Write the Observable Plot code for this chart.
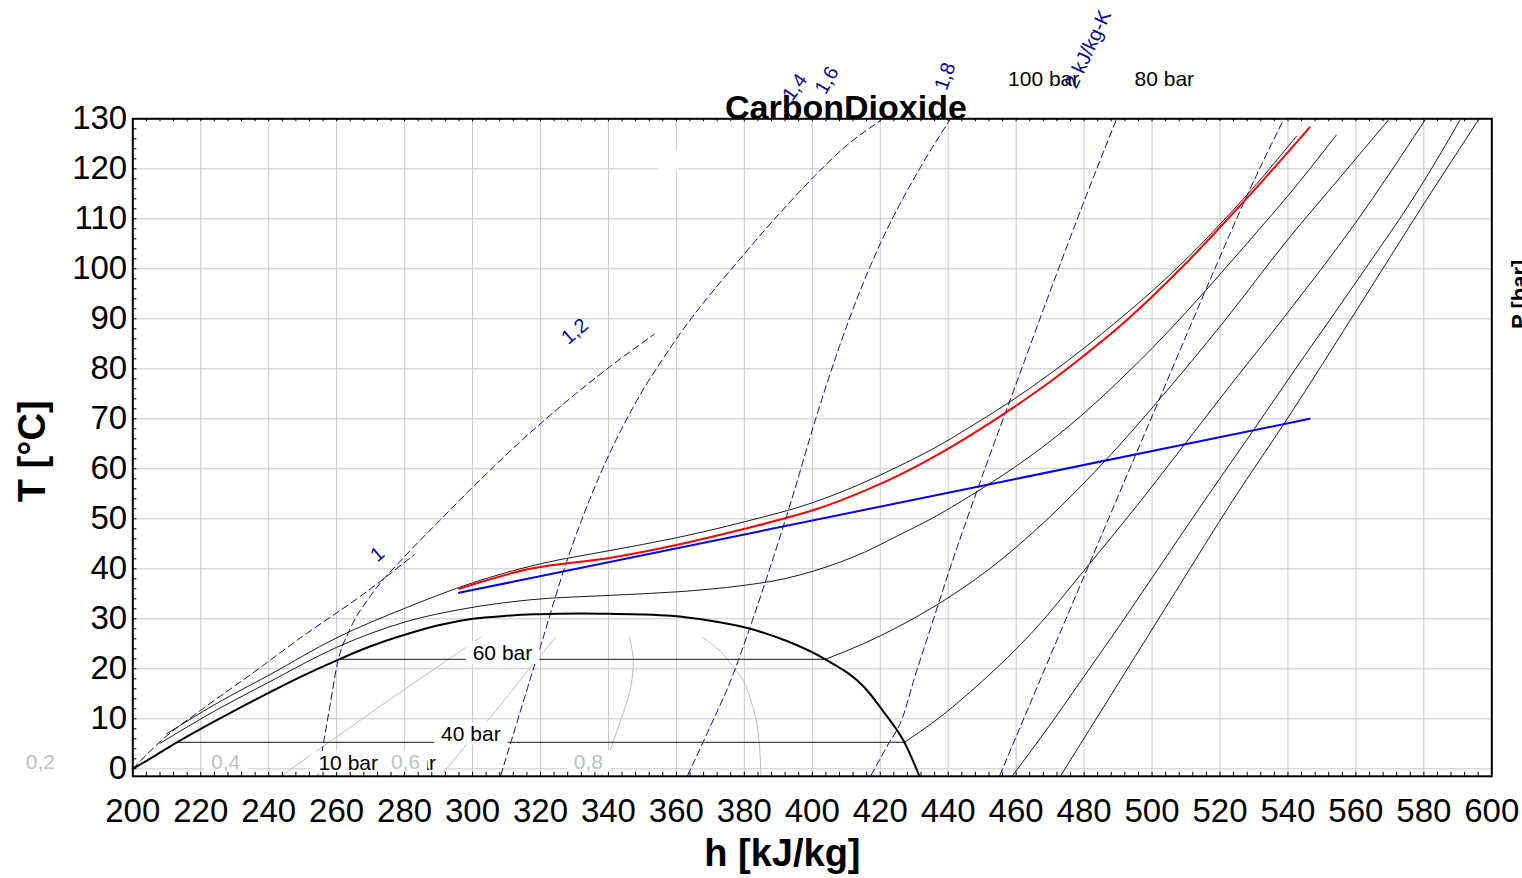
<!DOCTYPE html>
<html>
<head>
<meta charset="utf-8">
<script src="https://cdn.jsdelivr.net/npm/d3@7"></script>
<script src="https://cdn.jsdelivr.net/npm/@observablehq/plot@0.6"></script>
<style>
html,body{margin:0;padding:0;background:#fff;overflow:hidden;}
#chart svg{display:block;}
</style>
</head>
<body>
<div id="chart"></div>
<script>
// ---- axis ticks ----
const hTicks = [200,220,240,260,280,300,320,340,360,380,400,420,440,460,480,500,520,540,560,580,600];
const tTicks = [0,10,20,30,40,50,60,70,80,90,100,110,120,130];
const hGrid = [220,240,260,280,300,320,340,360,380,400,420,440,460,480,500,520,540,560,580];
const tGrid = [0,10,20,30,40,50,60,70,80,90,100,110,120];
const hMinor = d3.range(200, 601, 4);
const tMinor = d3.range(0, 131, 2);

// ---- saturation dome [h kJ/kg, T °C] ----
const saturation = [[200,0],[206.5,2.6],[213,5.3],[220,8],[229,11.3],[240,15.2],[250,18.6],[260.4,21.8],[270,24.5],[281,27],[290,28.7],[300,30],[310,30.6],[318,30.9],[325,31.02],[332,31.06],[340,31.0],[350,30.88],[358.4,30.6],[370,29.6],[380,28.3],[392.7,25.5],[403.8,21.9],[415.3,16.3],[421,11.4],[427.1,5.3],[431.5,-1.4]];

// ---- isobars ----
const p100 = [[210,7],[225,13.2],[240,18.7],[260,26.2],[280.8,32.3],[300,37.2],[320,41.0],[340,43.6],[360,46.2],[380,49.4],[400,53.2],[415.3,57.3],[425.1,60.4],[435,63.8],[447,68.6],[459.5,74.0],[470,79.0],[480.1,84.2],[490,89.7],[500.3,95.7],[510,101.9],[520.4,109.2],[531.2,117.3],[542.5,126.5]];
const p80 = [[208,5.1],[225,11.9],[240,17.3],[260,24.3],[280.8,29.5],[297.5,32],[317,33.8],[340.7,34.7],[360.3,35.4],[380,36.7],[391.7,38],[400.6,39.6],[415.3,43.3],[425.1,46.6],[435,50.0],[447,54.8],[459.5,60.3],[470,65.5],[480.1,71.2],[490,77.4],[500.3,84.3],[510,91.3],[520.4,99.2],[530,106.7],[540,114.6],[554.2,126.7]];
const p60flat = [[260.4,21.9],[403.8,21.9]];
const p60 = [[403.8,21.9],[415,25],[425,28.3],[435,32.1],[452,39.9],[469,49.8],[487,62.2],[500.3,72.4],[520.4,88.8],[540.5,106.3],[555,118],[569.5,129.7]];
const p40flat = [[213.1,5.3],[427.1,5.3]];
const p40 = [[427.1,5.3],[435,9],[450,17.5],[465,27.5],[481,40.5],[496.8,53.7],[509.6,64.9],[520.4,74.4],[540,91.3],[560,109.3],[580.3,129.7]];
const p20 = [[459,-1.3],[470,8.8],[480,18.5],[490,28.2],[500,38.2],[515.5,53.7],[528.7,66.6],[540,77.8],[560,97.3],[580,117.5],[590.6,129.7]];
const p10 = [[473.2,-1.3],[490,17],[507,35.5],[523.8,53.7],[540,70.2],[560,91.5],[580.3,113.3],[596,129.7]];

// ---- process lines ----
const redLine = [[296,36],[317,40],[340.7,42.2],[360.3,44.8],[380,48],[389.8,49.7],[400.6,51.8],[415.3,55.6],[425.1,58.6],[435,62.1],[447,66.9],[459.5,72.4],[470,77.4],[480.1,82.7],[490,88.2],[500.3,94.6],[510,101.1],[520.4,108.6],[531.2,116.6],[546.4,128.3]];
const blueLine = [[296,35.2],[546.4,70]];

// ---- isentropes (kJ/kg-K) ----
const s10 = [[200,0],[204,2.8],[209,6],[220,11.7],[235,19],[250,26.5],[268,35],[282.8,42.8]];
const s12 = [[254.5,-1.3],[256.1,5],[258,12.5],[260.2,21],[264,28],[270,34.6],[279.8,42.3],[290.1,49.5],[302.4,57.9],[317.1,67.3],[330,74.8],[340.2,80.3],[353.5,86.9]];
const s14 = [[308.3,-1.3],[312.5,8],[317,18],[320,24.5],[327,40],[337,58],[347,72],[358,84],[380,103],[390,110.8],[400.6,118.5],[410,124.6],[420.2,129.7]];
const s16 = [[363.3,-1.3],[370,8.5],[376,17.7],[381,27],[386,37],[394,54],[401,70],[408,84.5],[414,95.5],[420,105],[432,120.5],[440.4,129.7]];
const s18 = [[417.3,-1.3],[422,4.5],[426.6,10.3],[430,18],[435,28.5],[440,39],[450,58.5],[460,77],[470,95.5],[480,113.5],[489.4,129.7]];
const s20 = [[455.2,-1.3],[470,22.5],[485,46.5],[500,70.5],[517.4,98.3],[528.2,115],[538.6,129.7]];

// ---- quality lines ----
const q02 = [[244,-1.3],[273,12.6],[302.4,26.3]];
const q04 = [[291,-1.2],[297.5,4.3],[304.9,10],[317.1,20.3],[324.5,26.3]];
const q06 = [[337.9,-1.3],[340.5,3.7],[343.6,9.7],[346.4,15.7],[347.3,21.7],[346.2,26.3]];
const q08 = [[367.7,26.3],[376,21],[381.9,13.7],[384.4,5],[384.9,-1.3]];

// ---- labels ----
const boxedBlack = [
  {text:"20 bar", h:280.5, T:1.05},
  {text:"10 bar", h:263.4, T:1.05},
  {text:"40 bar", h:299.5, T:7.0},
  {text:"60 bar", h:308.8, T:23.1},
  {text:"\u00a0", h:357.6, T:121.5}
];
const boxedGrey = [
  {text:"0,4", h:227.3, T:1.25},
  {text:"0,6", h:280.3, T:1.25},
  {text:"0,8", h:334.1, T:1.25}
];
const outerGrey = [{text:"0,2", h:172.8, T:1.25}];
const topIsobarLabels = [
  {text:"100 bar", h:468.1, T:137.9},
  {text:"80 bar", h:503.6, T:137.9}
];
const isentropeLabels = [
  {text:"1", h:272, T:42.9, r:-40},
  {text:"1,2", h:330.1, T:87.5, r:-40},
  {text:"1,4", h:394.9, T:136.3, r:-55},
  {text:"1,6", h:404.3, T:137.7, r:-60},
  {text:"1,8", h:439.1, T:138.5, r:-70},
  {text:"2 kJ/kg-K", h:481.2, T:143.9, r:-65}
];

const navy = "#0b0b8f";
const line = (pts, o) => Plot.line(pts, {x: d => d[0], y: d => d[1], curve: "monotone-x", ...o});
const thin = {stroke: "black", strokeWidth: 0.9};
const flat = {stroke: "#444", strokeWidth: 1.2, curve: "linear"};
const dashed = {stroke: navy, strokeWidth: 1, strokeDasharray: "7,4"};
const grey = {stroke: "#bdbdbd", strokeWidth: 1};

const chart = Plot.plot({
  width: 1522,
  height: 878,
  marginLeft: 132.3,
  marginRight: 30.7,
  marginTop: 118.3,
  marginBottom: 102.2,
  x: {domain: [200, 600], axis: null},
  y: {domain: [-1.5, 130], axis: null},
  style: {fontFamily: "'Liberation Sans', Arial, sans-serif", background: "white"},
  marks: [
    Plot.ruleX(hGrid, {x: d => d, stroke: "#c8c8c8", strokeWidth: 1}),
    Plot.ruleY(tGrid, {y: d => d, stroke: "#c8c8c8", strokeWidth: 1}),
    line(q02, grey), line(q04, grey), line(q06, {...grey, curve: "catmull-rom"}), line(q08, grey),
    line(s10, dashed), line(s12, dashed), line(s14, dashed),
    line(s16, dashed), line(s18, dashed), line(s20, dashed),
    line(p100, thin), line(p80, thin),
    line(p60flat, flat), line(p60, thin),
    line(p40flat, flat), line(p40, thin),
    line(p20, thin), line(p10, thin),
    line(saturation, {stroke: "black", strokeWidth: 2}),
    line(redLine, {stroke: "#ff0000", strokeWidth: 2}),
    line(blueLine, {stroke: "#0000ff", strokeWidth: 2, curve: "linear"}),
    Plot.text(boxedBlack, {x: "h", y: "T", text: "text", fontSize: 21, fill: "black"}),
    Plot.text(boxedGrey, {x: "h", y: "T", text: "text", fontSize: 21, fill: "#c0c0c0"}),
    Plot.text(outerGrey, {x: "h", y: "T", text: "text", fontSize: 21, fill: "#c0c0c0"}),
    Plot.text(topIsobarLabels, {x: "h", y: "T", text: "text", fontSize: 21, fill: "black"}),
    Plot.text(isentropeLabels, {x: "h", y: "T", text: "text", rotate: "r", fontSize: 20, fill: navy}),
    Plot.text(["CarbonDioxide"], {x: 409.9, y: 129.9, text: d => d, fontSize: 34, fontWeight: "bold", lineAnchor: "bottom"}),
    Plot.text(["T [°C]"], {x: 174.3, y: 63.5, text: d => d, rotate: -90, fontSize: 38, fontWeight: "bold", lineAnchor: "bottom"}),
    Plot.text(["h [kJ/kg]"], {x: 391.2, y: -19.5, text: d => d, fontSize: 38, fontWeight: "bold", lineAnchor: "bottom"}),
    Plot.text(["P [bar]"], {x: 610.5, y: 94.9, text: d => d, rotate: -90, fontSize: 22, fontWeight: "bold", lineAnchor: "bottom"}),
    Plot.ruleX(hMinor, {x: d => d, y1: -1.5, y2: -0.7, stroke: "black", strokeWidth: 1}),
    Plot.ruleX(hMinor, {x: d => d, y1: 130, y2: 129.4, stroke: "black", strokeWidth: 1}),
    Plot.ruleY(tMinor, {y: d => d, x1: 200, x2: 201.2, stroke: "black", strokeWidth: 1}),
    Plot.text(hTicks, {x: d => d, y: -8.6, text: d => String(d), fontSize: 33}),
    Plot.text(tTicks, {x: 198.35, y: d => d, text: d => String(d), fontSize: 33, textAnchor: "end"}),
    Plot.frame({stroke: "black", strokeWidth: 2})
  ]
});

document.getElementById("chart").append(chart);

// white label boxes behind boxed labels
const boxedTexts = new Set([...boxedBlack, ...boxedGrey].map(d => d.text));
chart.querySelectorAll("text").forEach(t => {
  if (!boxedTexts.has(t.textContent)) return;
  const b = t.getBBox();
  const r = document.createElementNS("http://www.w3.org/2000/svg", "rect");
  r.setAttribute("x", b.x - 7);
  r.setAttribute("y", b.y);
  r.setAttribute("width", b.width + 14);
  r.setAttribute("height", b.height);
  r.setAttribute("fill", "white");
  r.setAttribute("stroke", "none");
  const tr = t.getAttribute("transform");
  if (tr) r.setAttribute("transform", tr);
  t.parentNode.insertBefore(r, t);
});
</script>
</body>
</html>
